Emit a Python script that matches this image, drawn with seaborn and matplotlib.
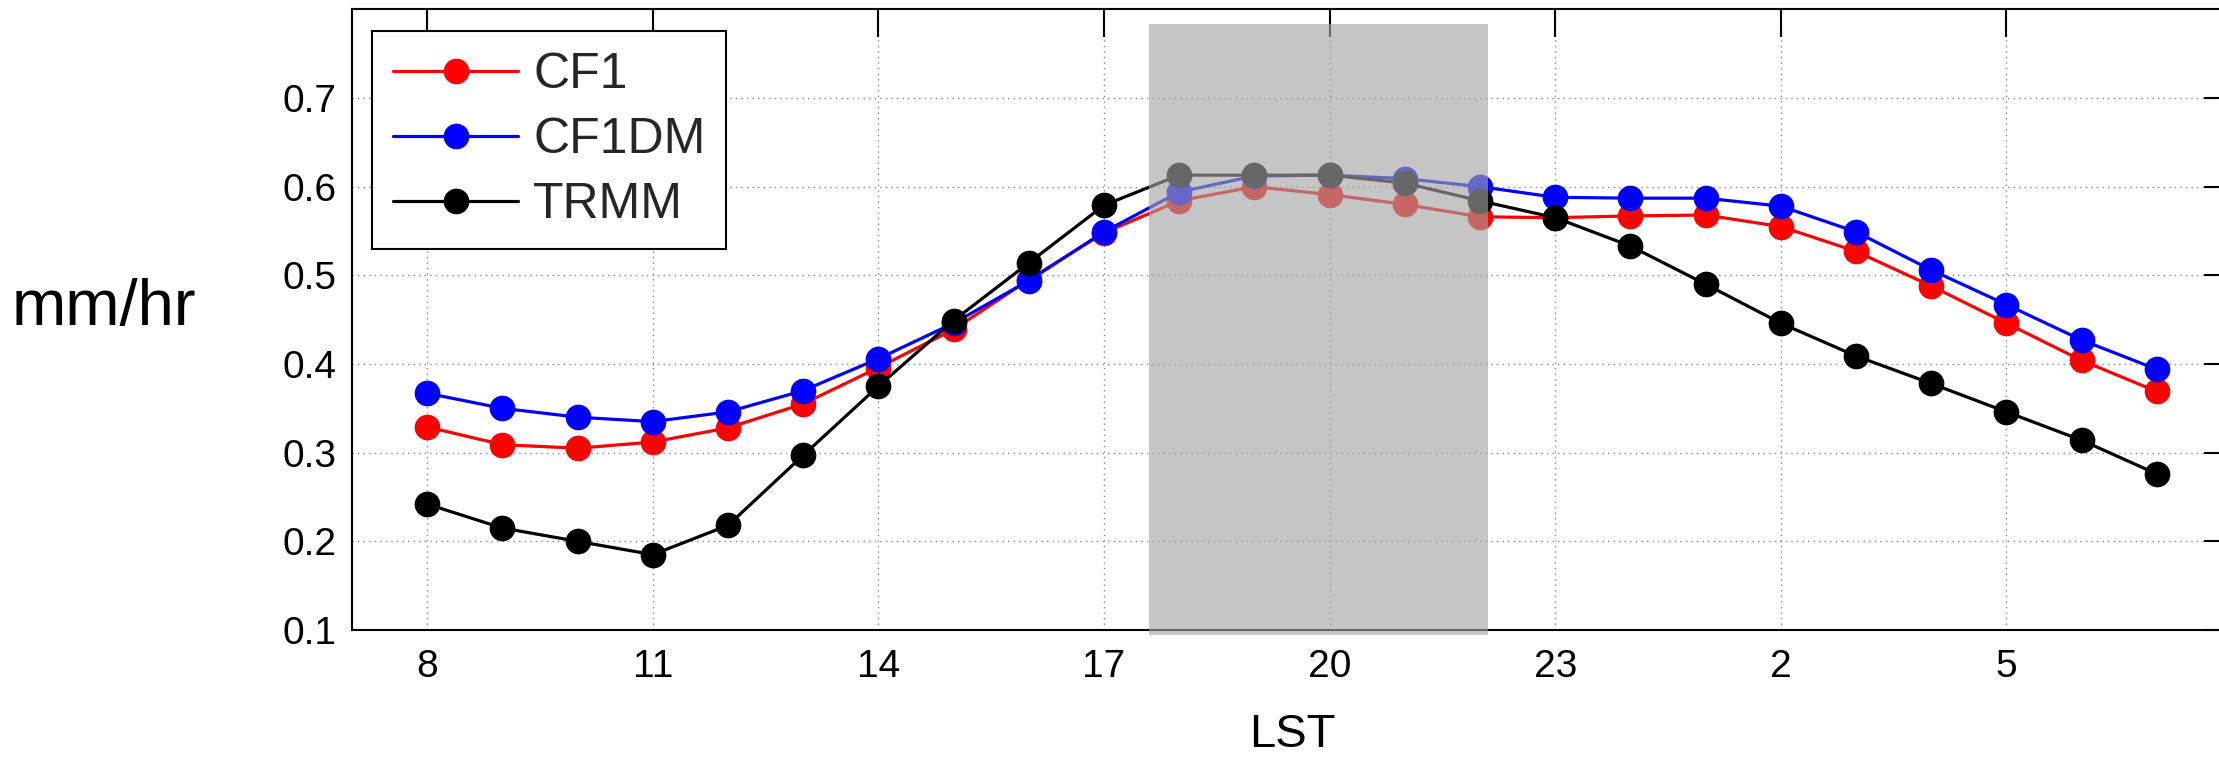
import numpy as np
import pandas as pd
import seaborn as sns
import matplotlib
matplotlib.use("Agg")
import matplotlib.pyplot as plt
from matplotlib.patches import Rectangle

# Local solar time of each sample (starting at 08 LST)
hours = [8, 9, 10, 11, 12, 13, 14, 15, 16, 17, 18, 19, 20, 21, 22, 23,
         0, 1, 2, 3, 4, 5, 6, 7]

# Diurnal precipitation rate (mm/hr)
cf1 = [0.329, 0.309, 0.305, 0.312, 0.328, 0.355, 0.396, 0.439, 0.495, 0.548,
       0.584, 0.600, 0.591, 0.580, 0.566, 0.565, 0.567, 0.568, 0.555, 0.527,
       0.488, 0.446, 0.404, 0.369]
cf1dm = [0.367, 0.350, 0.340, 0.335, 0.346, 0.370, 0.406, 0.446, 0.494, 0.549,
         0.594, 0.612, 0.613, 0.609, 0.600, 0.588, 0.587, 0.587, 0.578, 0.549,
         0.506, 0.467, 0.427, 0.394]
trmm = [0.242, 0.215, 0.200, 0.185, 0.218, 0.297, 0.375, 0.449, 0.514, 0.579,
        0.613, 0.613, 0.613, 0.604, 0.584, 0.565, 0.533, 0.490, 0.446, 0.409,
        0.378, 0.346, 0.314, 0.276]

series_names = ["CF1", "CF1DM", "TRMM"]
series_colors = ["#ff0000", "#0000ff", "#000000"]

# Highlighted evening window (LST)
shade_start, shade_end = 17.6, 22.1

sns.set_theme(style="white")
plt.rcParams["font.family"] = ["Liberation Sans", "DejaVu Sans"]

pos = np.arange(len(hours))
df = pd.DataFrame({
    "pos": np.tile(pos, 3),
    "rate": cf1 + cf1dm + trmm,
    "series": np.repeat(series_names, len(hours)),
})

fig = plt.figure(figsize=(22.19, 7.63), dpi=100)
ax = fig.add_axes([352 / 2219, 133 / 763, 1880 / 2219, 620.7 / 763])

for name, color in zip(series_names, series_colors):
    sub = df[df["series"] == name]
    sns.lineplot(data=sub, x="pos", y="rate", ax=ax, color=color,
                 marker="o", markersize=18.5, markeredgewidth=0,
                 linewidth=2.3, label=name, zorder=3)

ax.set_xlim(-1, len(hours))
ax.set_ylim(0.1, 0.8)

tick_pos = pos[::3]
ax.set_xticks(tick_pos)
ax.set_xticklabels([str(hours[i]) for i in tick_pos])
ax.set_yticks([0.1, 0.2, 0.3, 0.4, 0.5, 0.6, 0.7])
ax.set_yticklabels(["0.1", "0.2", "0.3", "0.4", "0.5", "0.6", "0.7"])

ax.tick_params(axis="both", direction="in", length=20, width=1.5,
               labelsize=28, colors="black", top=True, right=True)
ax.tick_params(axis="x", pad=14)
ax.tick_params(axis="y", pad=11)

ax.grid(True, color="#888888", linestyle=(0, (1, 3)), linewidth=1.0)
for sp in ax.spines.values():
    sp.set_color("black")
    sp.set_linewidth(1.5)

# Translucent grey band over the evening hours
x0 = shade_start - hours[0]
x1 = shade_end - hours[0]
ax.add_patch(Rectangle((x0, 0.094), x1 - x0, 0.783 - 0.094,
                       facecolor="#a4a4a4", alpha=0.635, edgecolor="none",
                       zorder=4, clip_on=False))

ax.set_xlabel("LST", fontsize=34, color="black")
ax.xaxis.label.set_va("center")
ax.xaxis.set_label_coords(0.5, (630 - 735) / 620.7)
ax.set_ylabel("mm/hr", fontsize=47, rotation=0, color="black",
              ha="center", va="center")
ax.yaxis.set_label_coords((104 - 352) / 1880, (630 - 308) / 620.7)

leg = ax.legend(loc="upper left", bbox_to_anchor=(20 / 1880, 1 - 22 / 620.7),
                fontsize=36, frameon=True, fancybox=False, framealpha=1,
                edgecolor="black", handlelength=2.5, handletextpad=0.3,
                labelspacing=0.38, borderpad=0.42, borderaxespad=0)
leg.get_frame().set_linewidth(1.5)
leg.set_zorder(5)

fig.savefig("out.png", dpi=100)
